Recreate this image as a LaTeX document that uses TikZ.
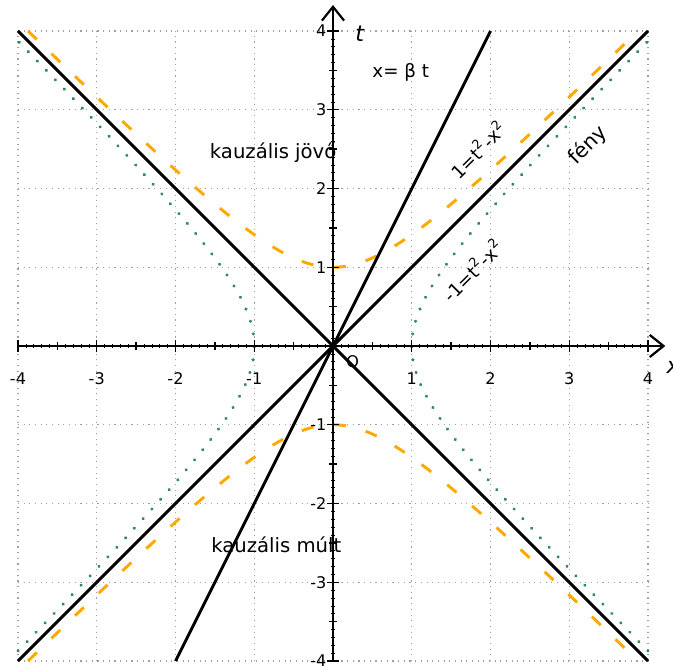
\documentclass[tikz,border=0pt]{standalone}
\usepackage{fontspec}
\setmainfont{DejaVu Sans}
\usetikzlibrary{arrows.meta}
\definecolor{hyporange}{RGB}{255,168,0}
\definecolor{hypgreen}{RGB}{46,139,87}
\tikzset{
  gridline/.style={gray!75, line width=0.4pt, dash pattern=on 0.4pt off 1.65pt},
  axisline/.style={line width=0.6pt, -{Straight Barb[length=5pt,width=8pt,line width=0.8pt]}},
  mainline/.style={line width=1.05pt, black},
  orangehyp/.style={hyporange, line width=1.05pt, dash pattern=on 4.4pt off 7.4pt},
  greenhyp/.style={hypgreen, line width=1.2pt, line cap=round, dash pattern=on 0.05pt off 4.65pt},
  ticklbl/.style={font=\fontsize{5.8}{7}\selectfont, inner sep=0.5pt},
  bigtxt/.style={font=\fontsize{7.1}{8.5}\selectfont, inner sep=0pt},
  midtxt/.style={font=\fontsize{6.6}{8}\selectfont, inner sep=0pt}
}
\begin{document}
\begin{tikzpicture}[x=1cm,y=1cm]
\useasboundingbox (-4.2286,-4.1016) rectangle (4.3175,4.3937);
% grid
\foreach \k in {-4,...,4} {
  \draw[gridline] (\k,-4) -- (\k,4);
  \draw[gridline] (-4,\k) -- (4,\k);
}
% hyperbolas
\draw[orangehyp] plot[domain=-3.873:3.873, samples=120, smooth] (\x,{sqrt(1+\x*\x)});
\draw[orangehyp] plot[domain=-3.873:3.873, samples=120, smooth] (\x,{-sqrt(1+\x*\x)});
\draw[greenhyp] plot[domain=-3.873:3.873, samples=120, smooth] ({sqrt(1+\x*\x)},\x);
\draw[greenhyp] plot[domain=-3.873:3.873, samples=120, smooth] ({-sqrt(1+\x*\x)},\x);
% axes
\coordinate (xl) at (-4,0);
\coordinate (xr) at (4.22,0);
\coordinate (yb) at (0,-4);
\coordinate (yt) at (0,4.33);
\draw[axisline] (xl) -- (xr);
\draw[axisline] (yb) -- (yt);
% ticks
\foreach \k in {-4,...,4} {
  \draw[line width=0.5pt] (\k,-0.08) -- (\k,0.08);
  \draw[line width=0.5pt] (-0.08,\k) -- (0.08,\k);
}
\foreach \k in {-3.5,-2.5,...,3.5} {
  \draw[line width=0.5pt] (\k,-0.05) -- (\k,0.05);
  \draw[line width=0.5pt] (-0.05,\k) -- (0.05,\k);
}
\foreach \k in {-40,...,40} {
  \draw[line width=0.25pt] (\k/10,-0.02) -- (\k/10,0.02);
  \draw[line width=0.25pt] (-0.02,\k/10) -- (0.02,\k/10);
}
% lines
\coordinate (a1) at (-4,-4); \coordinate (a2) at (4,4);
\coordinate (b1) at (-4,4); \coordinate (b2) at (4,-4);
\coordinate (c1) at (-2,-4); \coordinate (c2) at (2,4);
\draw[mainline] (a1) -- (a2);
\draw[mainline] (b1) -- (b2);
\draw[mainline] (c1) -- (c2);
% tick labels
\foreach \k in {-4,-3,-2,-1,1,2,3,4} {
  \node[ticklbl] (xt\k) at (\k,-0.41) {\k};
  \node[ticklbl, anchor=east] (yt\k) at (-0.06,\k) {\k};
}
\node[ticklbl] (orig) at (0.25,-0.2) {O};
\node[font=\fontsize{8}{9}\selectfont\itshape, inner sep=0pt] (tlab) at (0.34,3.97) {t};
\node[font=\fontsize{8}{9}\selectfont\itshape, inner sep=0pt] (xlab) at (4.32,-0.27) {x};
% texts
\node[midtxt] (beta) at (0.86,3.48) {x= β t};
\node[bigtxt] (jovo) at (-0.76,2.46) {kauzális jövő};
\node[bigtxt] (mult) at (-0.72,-2.53) {kauzális múlt};
\node[font=\fontsize{7.4}{9}\selectfont, inner sep=0pt, rotate=45] (feny) at (3.24,2.55) {fény};
\node[midtxt, rotate=45] (h1) at (1.84,2.5) {1=t\textsuperscript{2}-x\textsuperscript{2}};
\node[midtxt, rotate=45] (h2) at (1.77,0.97) {-1=t\textsuperscript{2}-x\textsuperscript{2}};
\end{tikzpicture}
\end{document}
